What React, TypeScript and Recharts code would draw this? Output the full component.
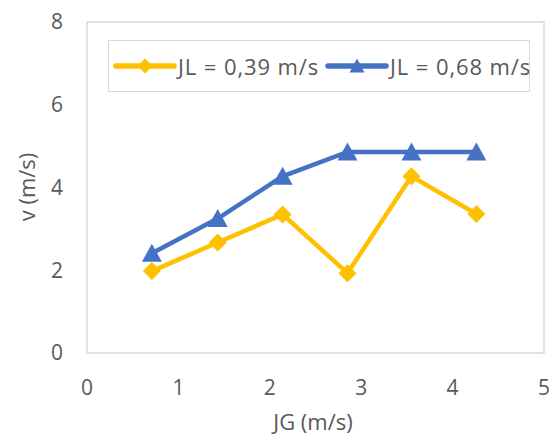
import { LineChart, Line, XAxis, YAxis, Legend, ReferenceArea } from 'recharts';

const jg = [0.71, 1.43, 2.14, 2.85, 3.55, 4.26];
const vLow = [1.98, 2.67, 3.35, 1.93, 4.27, 3.36];
const vHigh = [2.41, 3.25, 4.27, 4.86, 4.86, 4.86];
const xTicks = [0, 1, 2, 3, 4, 5];
const yTicks = [0, 2, 4, 6, 8];

const data = jg.map((x, i) => ({ jg: x, low: vLow[i], high: vHigh[i] }));

const ORANGE = '#FFC000';
const BLUE = '#4472C4';
const TEXT = '#595959';
const FONT = '"Open Sans", sans-serif';

const Diamond = (props: any) => {
  const { cx, cy, r = 9, fill } = props;
  return <path d={`M${cx},${cy - r} L${cx + r},${cy} L${cx},${cy + r} L${cx - r},${cy} Z`} fill={fill} />;
};

const Triangle = (props: any) => {
  const { cx, cy, w = 20, h = 17, fill } = props;
  return <path d={`M${cx},${cy - h / 2 - 1} L${cx + w / 2},${cy + h / 2} L${cx - w / 2},${cy + h / 2} Z`} fill={fill} />;
};

// legend entries sit at fixed offsets inside the box
function LegendBox() {
  const item = (color: string, label: string, shape: 'd' | 't', left: number) => (
    <div style={{ position: 'absolute', left, top: 0, height: '100%', display: 'flex', alignItems: 'center' }}>
      <svg width={64} height={20}>
        <line x1={3} y1={10} x2={61} y2={10} stroke={color} strokeWidth={5.5} strokeLinecap="round" />
        {shape === 'd'
          ? <Diamond cx={32} cy={10} r={7.5} fill={color} />
          : <Triangle cx={32} cy={10} w={15} h={13} fill={color} />}
      </svg>
      <span style={{ marginLeft: 1, color: TEXT, fontFamily: FONT, fontSize: 22, letterSpacing: 0.9, whiteSpace: 'nowrap' }}>{label}</span>
    </div>
  );
  return (
    <div style={{ position: 'relative', border: '1px solid #d9d9d9', width: 422, height: 52, boxSizing: 'border-box' }}>
      {item(ORANGE, 'JL = 0,39 m/s', 'd', 4)}
      {item(BLUE, 'JL = 0,68 m/s', 't', 216)}
    </div>
  );
}

export default function App() {
  const tick = { fill: TEXT, fontSize: 21, fontFamily: FONT };
  return (
    <div style={{ position: 'absolute', left: 0, top: 0, background: '#fff' }}>
      <LineChart width={550} height={435} data={data} margin={{ top: 22, right: 6, left: 0, bottom: 0 }}>
        <ReferenceArea x1={0} x2={5} y1={0} y2={8} fill="none" stroke="#d9d9d9" strokeWidth={1.5} />
        <XAxis
          dataKey="jg"
          type="number"
          domain={[0, 5]}
          ticks={xTicks}
          axisLine={false}
          tickLine={false}
          tickSize={0}
          tickMargin={27}
          height={82}
          tick={tick}
          label={{
            content: () => (
              <text x={313} y={421} textAnchor="middle" dominantBaseline="central" fill={TEXT} fontSize={22} fontFamily={FONT}>
                JG (m/s)
              </text>
            ),
          }}
        />
        <YAxis
          type="number"
          domain={[0, 8]}
          ticks={yTicks}
          axisLine={false}
          tickLine={false}
          tickSize={0}
          tickMargin={24}
          width={87}
          tick={tick}
          label={{
            content: () => (
              <text x={26} y={187} transform="rotate(-90 26 187)" textAnchor="middle" dominantBaseline="central" fill={TEXT} fontSize={22} fontFamily={FONT}>
                v (m/s)
              </text>
            ),
          }}
        />
        <Legend
          layout="horizontal"
          verticalAlign="middle"
          align="center"
          wrapperStyle={{ left: 108, top: 40, width: 422, height: 52 }}
          content={() => <LegendBox />}
        />
        <Line
          dataKey="low"
          stroke={ORANGE}
          strokeWidth={4.5}
          isAnimationActive={false}
          dot={(p: any) => <Diamond key={p.index} cx={p.cx} cy={p.cy} fill={ORANGE} />}
          activeDot={false}
        />
        <Line
          dataKey="high"
          stroke={BLUE}
          strokeWidth={4.5}
          isAnimationActive={false}
          dot={(p: any) => <Triangle key={p.index} cx={p.cx} cy={p.cy} fill={BLUE} />}
          activeDot={false}
        />
      </LineChart>
    </div>
  );
}
